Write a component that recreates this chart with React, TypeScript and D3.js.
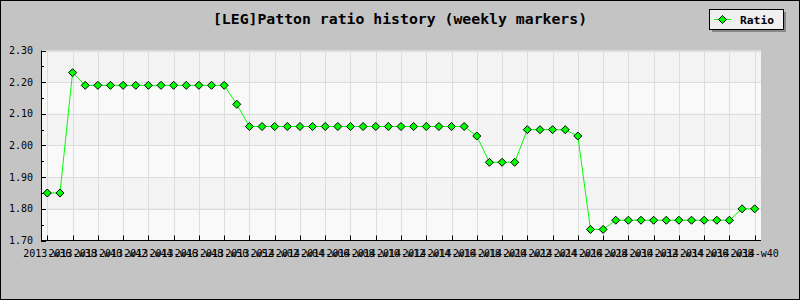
import React from "react";
import * as d3 from "d3";

const title = "[LEG]Patton ratio history (weekly markers)";
const seriesName = "Ratio";

const weeks: string[] = [
  "2013-w36", "2013-w37", "2013-w38", "2013-w39", "2013-w40", "2013-w41", "2013-w42", "2013-w43",
  "2013-w44", "2013-w45", "2013-w46", "2013-w47", "2013-w48", "2013-w49", "2013-w50", "2013-w51",
  "2013-w52", "2014-w01", "2014-w02", "2014-w03", "2014-w04", "2014-w05", "2014-w06", "2014-w07",
  "2014-w08", "2014-w09", "2014-w10", "2014-w11", "2014-w12", "2014-w13", "2014-w14", "2014-w15",
  "2014-w16", "2014-w17", "2014-w18", "2014-w19", "2014-w20", "2014-w21", "2014-w22", "2014-w23",
  "2014-w24", "2014-w25", "2014-w26", "2014-w27", "2014-w28", "2014-w29", "2014-w30", "2014-w31",
  "2014-w32", "2014-w33", "2014-w34", "2014-w35", "2014-w36", "2014-w37", "2014-w38", "2014-w39",
  "2014-w40",
];

const ratio: number[] = [
  1.85, 1.85, 2.23,
  2.19, 2.19, 2.19, 2.19, 2.19, 2.19, 2.19, 2.19, 2.19, 2.19, 2.19, 2.19,
  2.13,
  2.06, 2.06, 2.06, 2.06, 2.06, 2.06, 2.06, 2.06, 2.06, 2.06, 2.06, 2.06, 2.06, 2.06, 2.06, 2.06, 2.06, 2.06,
  2.03,
  1.947, 1.947, 1.947,
  2.05, 2.05, 2.05, 2.05,
  2.03,
  1.735, 1.735,
  1.764, 1.764, 1.764, 1.764, 1.764, 1.764, 1.764, 1.764, 1.764, 1.764,
  1.80, 1.80,
];

const yTicks: number[] = [1.7, 1.8, 1.9, 2.0, 2.1, 2.2, 2.3];
const yMinorTicks: number[] = [1.75, 1.85, 1.95, 2.05, 2.15, 2.25];

const W = 800;
const H = 300;
const L = 41;
const R = 761;
const T = 50.5;
const B = 240.5;
const mono = "'DejaVu Sans Mono', monospace";

export default function App() {
  const x = d3.scaleBand<string>().domain(weeks).range([L, R]).padding(0);
  const cx = (w: string) => (x(w) as number) + x.bandwidth() / 2;
  const y = d3.scaleLinear().domain([1.7, 2.3]).range([B, T]);

  const labeled = weeks.filter((_, i) => i % 2 === 0);
  const line = d3
    .line<number>()
    .x((_, i) => cx(weeks[i]))
    .y((d) => y(d));

  const bands = yTicks.slice(0, -1).map((v, i) => ({ v0: v, v1: yTicks[i + 1], dark: (yTicks.length - 2 - i) % 2 === 0 }));

  const lime = "#00FF00";
  const diamond = (px: number, py: number, r: number) =>
    `M${px},${py - r}L${px + r},${py}L${px},${py + r}L${px - r},${py}Z`;

  return (
    <div style={{ position: "fixed", left: 0, top: 0 }}>
      <svg width={W} height={H} style={{ display: "block" }}>
        <rect x={0.5} y={0.5} width={W - 1} height={H - 1} fill="#C4C4C4" stroke="#000" />
        {bands.map((b, i) => (
          <rect key={i} x={L} y={y(b.v1)} width={R - L} height={y(b.v0) - y(b.v1)} fill={b.dark ? "#F3F3F3" : "#F9F9F9"} />
        ))}
        {yTicks.slice(1).map((v) => (
          <line key={v} x1={L} x2={R} y1={Math.round(y(v)) + 0.5} y2={Math.round(y(v)) + 0.5} stroke="#DDDDDD" />
        ))}
        {labeled.map((w) => (
          <line key={w} x1={Math.round(cx(w)) + 0.5} x2={Math.round(cx(w)) + 0.5} y1={T} y2={B} stroke="#DDDDDD" />
        ))}
        {/* axes */}
        <line x1={L + 0.5} x2={L + 0.5} y1={T} y2={B + 0.5} stroke="#000" />
        <line x1={L} x2={R} y1={B} y2={B} stroke="#000" />
        {yTicks.map((v) => (
          <g key={v}>
            <line x1={L} x2={L + 5} y1={Math.round(y(v)) + 0.5} y2={Math.round(y(v)) + 0.5} stroke="#000" />
            <text x={33} y={y(v)} dy="0.36em" textAnchor="end" fontFamily={mono} fontSize={10} fill="#000">
              {v.toFixed(2)}
            </text>
          </g>
        ))}
        {yMinorTicks.map((v) => (
          <line key={v} x1={L} x2={L + 3} y1={Math.round(y(v)) + 0.5} y2={Math.round(y(v)) + 0.5} stroke="#000" />
        ))}
        {labeled.map((w) => (
          <g key={w}>
            <line x1={Math.round(cx(w)) + 0.5} x2={Math.round(cx(w)) + 0.5} y1={B} y2={B - 5} stroke="#000" />
            <text x={cx(w)} y={257} textAnchor="middle" fontFamily={mono} fontSize={10} fill="#000">
              {w}
            </text>
          </g>
        ))}
        <path d={line(ratio) as string} fill="none" stroke={lime} strokeWidth={1} />
        {ratio.map((v, i) => (
          <path key={i} d={diamond(cx(weeks[i]), y(v), 4)} fill={lime} stroke="#000" strokeWidth={1} />
        ))}
        <text x={400} y={24} textAnchor="middle" fontFamily={mono} fontWeight="bold" fontSize={14.8} fill="#000">
          {title}
        </text>
        {/* legend */}
        <rect x={712} y={12} width={74} height={20} fill="#888888" />
        <rect x={709.5} y={9.5} width={74} height={20} fill="#F0F0F0" stroke="#000" />
        <line x1={714} x2={731} y1={19.5} y2={19.5} stroke={lime} />
        <path d={diamond(722.5, 19.5, 4)} fill={lime} stroke="#000" />
        <text x={740} y={23.5} fontFamily={mono} fontWeight="bold" fontSize={11.3} fill="#000">
          {seriesName}
        </text>
      </svg>
    </div>
  );
}
